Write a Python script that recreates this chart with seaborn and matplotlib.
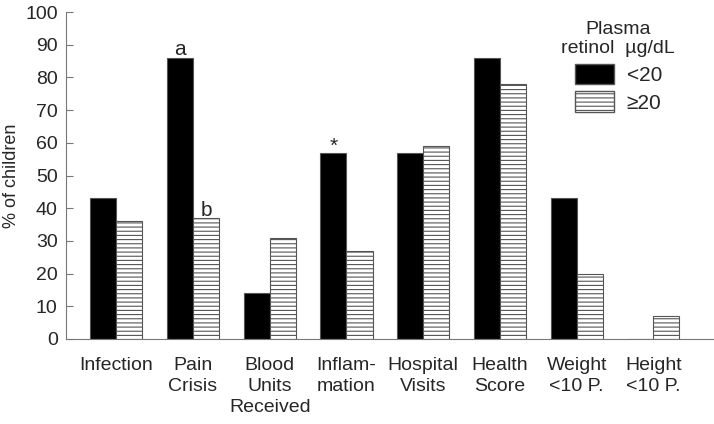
import matplotlib
matplotlib.use("Agg")
import matplotlib.pyplot as plt
import seaborn as sns
import pandas as pd
from matplotlib.patches import Patch

# values
categories = ["Infection", "Pain\nCrisis", "Blood\nUnits\nReceived", "Inflam-\nmation",
              "Hospital\nVisits", "Health\nScore", "Weight\n<10 P.", "Height\n<10 P."]
low_retinol = [43, 86, 14, 57, 57, 86, 43, 0]
high_retinol = [36, 37, 31, 27, 59, 78, 20, 7]
groups = ["<20", "\u226520"]
yticks = [0, 10, 20, 30, 40, 50, 60, 70, 80, 90, 100]

df = pd.DataFrame({
    "category": categories * 2,
    "value": low_retinol + high_retinol,
    "group": [groups[0]] * len(categories) + [groups[1]] * len(categories),
})

sns.set_style("ticks")
plt.rcParams["font.family"] = ["Liberation Sans", "DejaVu Sans"]
plt.rcParams["hatch.linewidth"] = 0.8
plt.rcParams["hatch.color"] = "#333333"

fig = plt.figure(figsize=(7.14, 4.24), dpi=100)
ax = fig.add_axes([0.0924, 0.2005, 0.9076, 0.771])

sns.barplot(data=df, x="category", y="value", hue="group", hue_order=groups,
            order=categories, palette=["black", "white"], width=0.68,
            edgecolor="#555555", linewidth=0.8, saturation=1, legend=False, ax=ax)

for bar in ax.containers[1]:
    bar.set_hatch("----")

ax.set_xlim(-0.656, 7.79)
ax.set_ylim(0, 100)
ax.set_yticks(yticks)
ax.tick_params(axis="y", direction="in", length=5, width=0.8, color="#777777", labelsize=14, pad=6)
ax.tick_params(axis="x", length=0, pad=13)
ax.set_xticks(range(len(categories)))
ax.set_xticklabels(categories, fontsize=14, linespacing=1.3)
ax.set_xlabel("")
ax.set_ylabel("% of children", fontsize=13)
ax.yaxis.set_label_coords(-0.071, 0.5)
for side in ["top", "right"]:
    ax.spines[side].set_visible(False)
for side in ["left", "bottom"]:
    ax.spines[side].set_color("#777777")
    ax.spines[side].set_linewidth(0.8)

# significance marks
ax.text(1 - 0.17, low_retinol[1] - 0.5, "a", ha="center", va="bottom", fontsize=15)
ax.text(1 + 0.17, high_retinol[1] - 0.5, "b", ha="center", va="bottom", fontsize=15)
ax.text(3 - 0.17, low_retinol[3] - 1, "*", ha="center", va="bottom", fontsize=15)

handles = [Patch(facecolor="black", edgecolor="#555555"),
           Patch(facecolor="white", edgecolor="#555555", hatch="----")]
leg = ax.legend(handles, groups, title="Plasma\nretinol  \u00b5g/dL", frameon=False,
                fontsize=15, title_fontsize=14, handlelength=1.9, handleheight=1.15,
                labelspacing=0.3, handletextpad=0.6,
                loc="upper left", bbox_to_anchor=(0.76, 0.995), bbox_transform=fig.transFigure)
leg.get_title().set_multialignment("center")

fig.savefig("out.png", dpi=100)
